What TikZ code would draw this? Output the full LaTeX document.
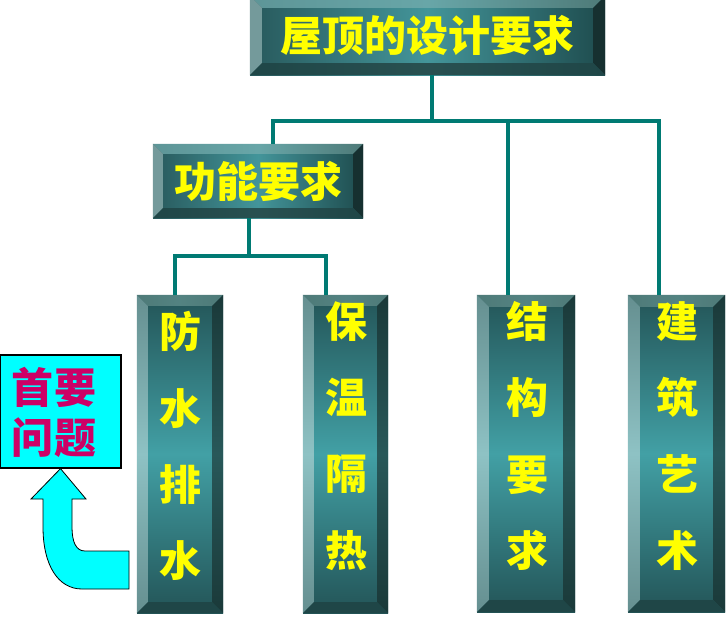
\documentclass[tikz,border=0pt]{standalone}
\usepackage{fontspec}
\newfontfamily\cjk{Noto Sans CJK SC}
\usetikzlibrary{calc}
\definecolor{linec}{HTML}{007A73}
\definecolor{facedark}{HTML}{235457}
\definecolor{facelight}{HTML}{42A0A5}
\definecolor{hfacel}{HTML}{28595C}
\definecolor{hfacem}{HTML}{43959A}
\definecolor{hfacer}{HTML}{1E4B4D}
\definecolor{bevtop}{HTML}{4E7A78}
\definecolor{bevtoplight}{HTML}{68A6A8}
\definecolor{bevleft}{HTML}{8EC2C4}
\definecolor{bevleftdark}{HTML}{658F90}
\definecolor{bevright}{HTML}{1A3939}
\definecolor{bevrightlight}{HTML}{285859}
\definecolor{bevbot}{HTML}{1F4647}
\definecolor{txtyellow}{HTML}{FFFF00}
\definecolor{notefill}{HTML}{00FFFF}
\definecolor{notetxt}{HTML}{CC0066}
\newcommand\vbevel[2]{%
  \shade[left color=bevtop,right color=bevtop,middle color=bevtop!80!bevtoplight]
    (#1.north west) -- (#1.north east) -- ($(#1.north east)+(-#2,#2)$) -- ($(#1.north west)+(#2,#2)$) -- cycle;
  \shade[top color=bevleftdark,bottom color=bevleftdark,middle color=bevleft]
    (#1.north west) -- ($(#1.north west)+(#2,#2)$) -- ($(#1.south west)+(#2,-#2)$) -- (#1.south west) -- cycle;
  \shade[top color=bevright,bottom color=bevright,middle color=bevrightlight]
    (#1.north east) -- ($(#1.north east)+(-#2,#2)$) -- ($(#1.south east)+(-#2,-#2)$) -- (#1.south east) -- cycle;
  \fill[bevbot]
    (#1.south west) -- ($(#1.south west)+(#2,-#2)$) -- ($(#1.south east)+(-#2,-#2)$) -- (#1.south east) -- cycle;
}
\newcommand\hbevel[2]{%
  \shade[left color=bevtoplight!90!black,right color=bevtop,middle color=bevtoplight]
    (#1.north west) -- (#1.north east) -- ($(#1.north east)+(-#2,#2)$) -- ($(#1.north west)+(#2,#2)$) -- cycle;
  \fill[bevleftdark!90!white]
    (#1.north west) -- ($(#1.north west)+(#2,#2)$) -- ($(#1.south west)+(#2,-#2)$) -- (#1.south west) -- cycle;
  \fill[bevright!85!black]
    (#1.north east) -- ($(#1.north east)+(-#2,#2)$) -- ($(#1.south east)+(-#2,-#2)$) -- (#1.south east) -- cycle;
  \shade[left color=bevbot,right color=bevbot,middle color=bevbot!80!bevtop]
    (#1.south west) -- ($(#1.south west)+(#2,-#2)$) -- ($(#1.south east)+(-#2,-#2)$) -- (#1.south east) -- cycle;
}
\tikzset{
  vbox/.style={inner sep=0pt,minimum height=318pt,top color=facedark,bottom color=facedark,middle color=facelight},
  hbox/.style={inner sep=0pt,left color=hfacel,right color=hfacer,middle color=hfacem,
    text=txtyellow,font=\cjk\bfseries\fontsize{42}{50}\selectfont},
  vtext/.style={inner sep=0pt,align=center,text=txtyellow,font=\cjk\bfseries\fontsize{42}{76.3}\selectfont},
  conn/.style={draw=linec,line width=3.5pt},
}
\begin{document}
\begin{tikzpicture}[x=1pt,y=-1pt]
\useasboundingbox (0,0) rectangle (727,629);
% connectors
\coordinate (j1) at (432,121);
\coordinate (hL) at (273,121);
\coordinate (hM) at (508,121);
\coordinate (hR) at (659,121);
\coordinate (j2) at (249,256);
\coordinate (gL) at (175,256);
\coordinate (gR) at (326,256);
% boxes
\node[hbox,minimum width=355pt,minimum height=79pt] (top) at (427.5,35.5) {屋顶的设计要求};
\hbevel{top}{12}
\node[hbox,minimum width=210pt,minimum height=74pt] (func) at (258,181) {功能要求};
\hbevel{func}{10}
\node[vbox,minimum width=86pt] (c1) at (180,454) {};
\vbevel{c1}{11}
\node[vbox,minimum width=85pt] (c2) at (345.5,454) {};
\vbevel{c2}{11}
\node[vbox,minimum width=98pt,minimum height=317pt] (c3) at (526,453.5) {};
\vbevel{c3}{12}
\node[vbox,minimum width=97pt,minimum height=317pt] (c4) at (676.5,453.5) {};
\vbevel{c4}{12}
\node[vtext] (t1) at (180,446) {防\\水\\排\\水};
\node[vtext] (t2) at (346,436) {保\\温\\隔\\热};
\node[vtext] (t3) at (527,436) {结\\构\\要\\求};
\node[vtext] (t4) at (677,436) {建\\筑\\艺\\术};
% lines
\draw[conn] (top.south -| j1) -- (j1);
\draw[conn] (hL |- func.north) -- (hL) -- (hR) -- (hR |- c4.north);
\draw[conn] (hM) -- (hM |- c3.north);
\draw[conn] (j2 |- func.south) -- (j2);
\draw[conn] (gL |- c1.north) -- (gL) -- (gR) -- (gR |- c2.north);
% note
\node[draw=black,line width=1.2pt,fill=notefill,inner sep=0pt,minimum width=121pt,minimum height=113pt] (note) at (60.5,411.5) {};
\node[inner sep=0pt,align=center,text=notetxt,font=\cjk\bfseries\fontsize{42}{50}\selectfont] (notetext) at (54,412) {首要\\问题};
\filldraw[fill=notefill,draw=black,line width=0.8pt]
  (note.south) -- (86,499) -- (72,499) -- (72,527) .. controls (72,542) and (76,551) .. (85,551)
  -- (129,551) -- (129,589) -- (82,589) .. controls (58,589) and (43,565) .. (43,527)
  -- (43,499) -- (31,499) -- cycle;
\end{tikzpicture}
\end{document}
